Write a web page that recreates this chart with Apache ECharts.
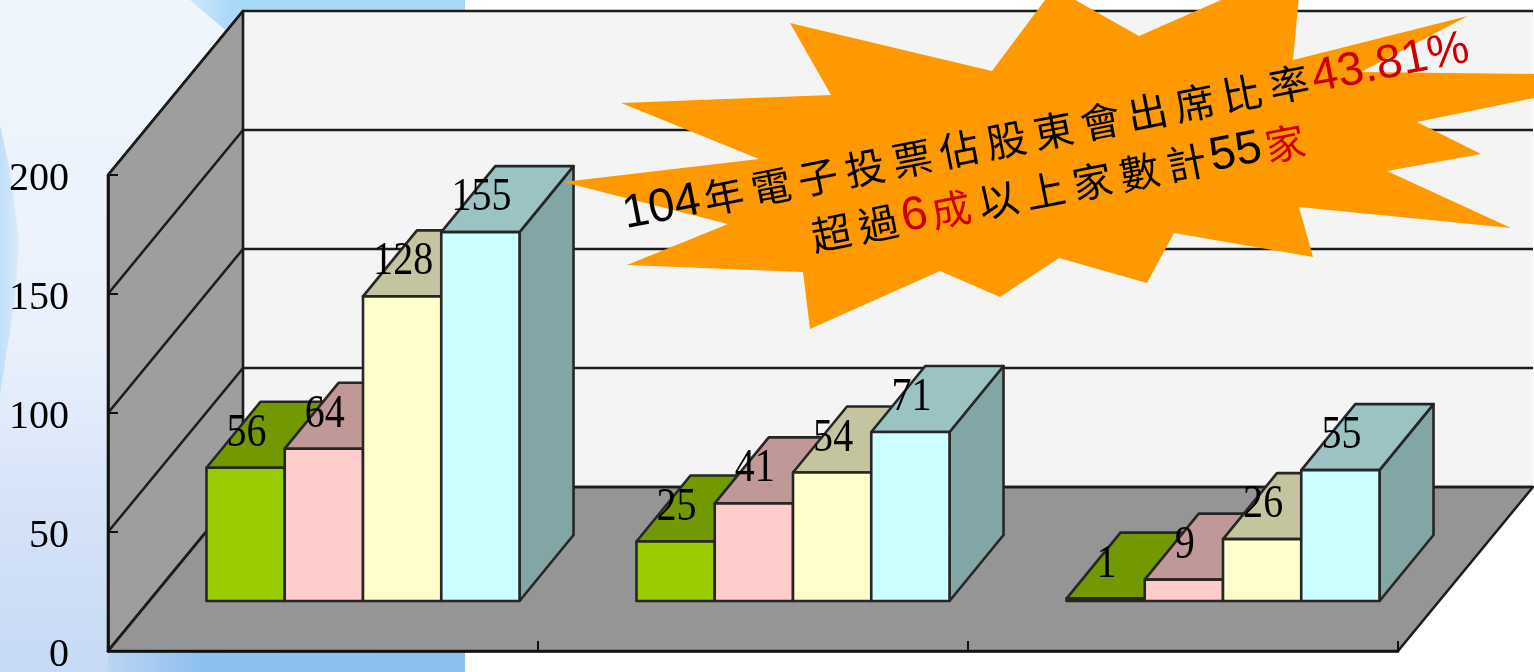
<!DOCTYPE html>
<html><head><meta charset="utf-8">
<style>html,body{margin:0;padding:0;background:#fff}#c{width:1534px;height:672px}</style>
<script src="https://cdn.jsdelivr.net/npm/echarts@6/dist/echarts.min.js"></script>
</head><body><div id="c"></div>
<script>
const categories = ['第一組', '第二組', '第三組'];
const seriesA = [56, 25, 1];
const seriesB = [64, 41, 9];
const seriesC = [128, 54, 26];
const seriesD = [155, 71, 55];
const yTicks = [0, 50, 100, 150, 200];
const calloutLine1 = [['k', '104'], ['c', '年電子投票佔股東會出席比率'], ['r', '43.81%']];
const calloutLine2 = [['c', '超過'], ['r', '6'], ['rc', '成'], ['c', '以上家數計'], ['k', '55'], ['rc', '家']];

const seriesValues = [seriesA, seriesB, seriesC, seriesD];
const frontColors = ['#99CC00', '#FFCCCC', '#FFFFCC', '#CCFFFF'];
const topColors = ['#739900', '#C09898', '#C4C49E', '#9CC3C3'];
const sideColors = ['#5F8000', '#A58585', '#A5A585', '#82A5A5'];
const WALL = [135, 164], BAR_FRONT = [40, 50], BAR_DEPTH = [54, 66];
const LINE = '#1c1c1c';

function renderScene(params, api) {
  const cs = params.coordSys, L = cs.x, R = cs.x + cs.width;
  const y0 = api.coord([0, 0])[1], yMax = api.coord([0, 200])[1];
  const ch = [];
  const poly = (pts, fill, stroke, lw) => ({type: 'polygon', shape: {points: pts},
    style: {fill, stroke: stroke || 'none', lineWidth: lw || 0, lineJoin: 'round'}});
  const line = (a, b) => ({type: 'line', shape: {x1: a[0], y1: a[1], x2: b[0], y2: b[1]},
    style: {stroke: LINE, lineWidth: 2.6, fill: 'none'}});
  const dx = WALL[0], dy = WALL[1];
  ch.push(poly([[L + dx, yMax - dy], [R + dx, yMax - dy], [R + dx, y0 - dy], [L + dx, y0 - dy]], '#F4F4F4'));
  ch.push(poly([[L, yMax], [L + dx, yMax - dy], [L + dx, y0 - dy], [L, y0]], '#9E9E9E', LINE, 2.6));
  ch.push(poly([[L, y0], [L + dx, y0 - dy], [R + dx, y0 - dy], [R, y0]], '#959595', LINE, 2.6));
  yTicks.forEach(t => {
    const y = api.coord([0, t])[1];
    ch.push(line([L, y], [L + dx, y - dy]));
    ch.push(line([L + dx, y - dy], [R + dx, y - dy]));
  });
  return {type: 'group', children: ch};
}

function barRenderer(k) {
  return function (params, api) {
    const i = api.value(0), v = api.value(1);
    const cx = api.coord([i, v])[0];
    const w = api.size([1, 0])[0] * 0.182;
    const xl = cx - 2 * w + k * w + BAR_FRONT[0], xr = xl + w;
    const yb = api.coord([i, 0])[1] - BAR_FRONT[1];
    const yt = api.coord([i, v])[1] - BAR_FRONT[1];
    const ddx = BAR_DEPTH[0], ddy = BAR_DEPTH[1];
    const s = {stroke: '#262626', lineWidth: 2.6, lineJoin: 'round'};
    return {type: 'group', children: [
      {type: 'polygon', shape: {points: [[xr, yb], [xr + ddx, yb - ddy], [xr + ddx, yt - ddy], [xr, yt]]},
        style: Object.assign({fill: sideColors[k]}, s)},
      {type: 'polygon', shape: {points: [[xl, yt], [xl + ddx, yt - ddy], [xr + ddx, yt - ddy], [xr, yt]]},
        style: Object.assign({fill: topColors[k]}, s)},
      {type: 'rect', shape: {x: xl, y: yt, width: w, height: yb - yt},
        style: Object.assign({fill: frontColors[k]}, s)},
      {type: 'text', z2: 10, x: (xl + xr) / 2 + 1, y: yt - 34, scaleX: 0.87,
        style: {text: String(v), x: 0, y: 0, fill: '#000',
        fontFamily: '"Liberation Serif"', fontSize: 46, align: 'center', verticalAlign: 'middle'}}
    ]};
  };
}

const starPoints = [[790,23],[992,71],[1054,-12],[1139,36],[1221,0],[1302,-36],[1293,60],[1468,16],[1361,72],
  [1534,74],[1534,98],[1417,122],[1481,154],[1387,171],[1511,228],[1299,207],[1313,257],[1174,233],[1147,283],
  [1059,258],[1000,297],[940,271],[810,329],[803,272],[627,265],[728,224],[563,182],[759,159],[621,103],[831,95]];

const rich = {
  k: {fontFamily: '"Liberation Sans"', fontSize: 47, fill: '#000'},
  r: {fontFamily: '"Liberation Sans"', fontSize: 47, fill: '#CC0000'},
  c: {fontFamily: '"Noto Sans CJK TC"', fontSize: 40, fill: '#000', padding: [0, 4, 0, 4]},
  rc: {fontFamily: '"Noto Sans CJK TC"', fontSize: 40, fill: '#CC0000', padding: [0, 4, 0, 4]}
};
// CJK runs get one token per character so each glyph can carry its own side padding.
const toRich = segs => segs.map(([st, txt]) =>
  (st === 'c' || st === 'rc') ? Array.from(txt).map(ch => `{${st}|${ch}}`).join('') : `{${st}|${txt}}`).join('');

const chart = echarts.init(document.getElementById('c'), null, {renderer: 'canvas'});
const bars = seriesValues.map((vals, k) => ({
  type: 'custom', name: 'S' + (k + 1), z: 3 + k, animation: false, silent: true,
  coordinateSystem: 'cartesian2d', clip: false,
  encode: {x: 0, y: 1},
  data: vals.map((v, i) => [i, v]),
  renderItem: barRenderer(k)
}));
const Grad = echarts.graphic.LinearGradient;

chart.setOption({
  animation: false,
  backgroundColor: '#fff',
  grid: {left: 108, top: 175, width: 1290, height: 476, outerBoundsMode: 'none', containLabel: false},
  xAxis: {type: 'category', data: categories, z: 20,
    axisLine: {show: true, lineStyle: {color: '#111', width: 2.6}},
    axisTick: {show: true, inside: true, length: 10, lineStyle: {color: '#111', width: 2}},
    axisLabel: {show: false}, splitLine: {show: false}},
  yAxis: {type: 'value', min: 0, max: 200, interval: 50, z: 20,
    axisLine: {show: true, lineStyle: {color: '#111', width: 2.6}},
    axisTick: {show: true, inside: true, length: 10, lineStyle: {color: '#111', width: 2}},
    axisLabel: {show: true, margin: 39, formatter: '{v|{value}}',
      rich: {v: {color: '#000', fontFamily: '"Liberation Serif"', fontSize: 40, padding: [8, 0, 0, 0]}}},
    splitLine: {show: false}},
  graphic: {elements: [
    {type: 'rect', z: -10, shape: {x: 0, y: 0, width: 465, height: 672},
      style: {fill: new Grad(0, 0, 0, 1, [
        {offset: 0, color: '#EFF6FD'}, {offset: 0.5, color: '#EAF1FC'},
        {offset: 0.75, color: '#D6E3F8'}, {offset: 1, color: '#C6DAF5'}])}},
    {type: 'polygon', z: -9, shape: {points: [[0, 125], [10, 170], [19, 240], [15, 300], [0, 395]]},
      style: {fill: new Grad(0, 0, 1, 0, [{offset: 0, color: '#BFDFF9'}, {offset: 1, color: '#DCEBFB'}])}},
    {type: 'polygon', z: -9, shape: {points: [[190, 0], [465, 0], [465, 12], [232, 36]]},
      style: {fill: new Grad(0, 0, 1, 0, [{offset: 0, color: '#CFE7FA'}, {offset: 0.15, color: '#A9D8F8'}, {offset: 1, color: '#A9D8F8'}])}},
    {type: 'rect', z: -9, shape: {x: 108, y: 652, width: 357, height: 20},
      style: {fill: new Grad(0, 0, 1, 0, [{offset: 0, color: '#BBD5F3'}, {offset: 0.25, color: '#8FC1EE'}, {offset: 1, color: '#8CC0EE'}])}},
    {type: 'polygon', z: 100, shape: {points: starPoints}, style: {fill: '#FF9900'}},
    {type: 'text', z: 101, x: 1046, y: 132, rotation: 0.195,
      style: {text: toRich(calloutLine1), rich, align: 'center', verticalAlign: 'middle'}},
    {type: 'text', z: 101, x: 1058, y: 188, rotation: 0.195,
      style: {text: toRich(calloutLine2), rich, align: 'center', verticalAlign: 'middle'}}
  ]},
  series: [{
    type: 'custom', name: 'scene', z: 1, animation: false, silent: true, clip: false,
    coordinateSystem: 'cartesian2d', encode: {x: 0, y: 1},
    data: [[0, 0]], renderItem: renderScene
  }].concat(bars)
});
</script></body></html>
